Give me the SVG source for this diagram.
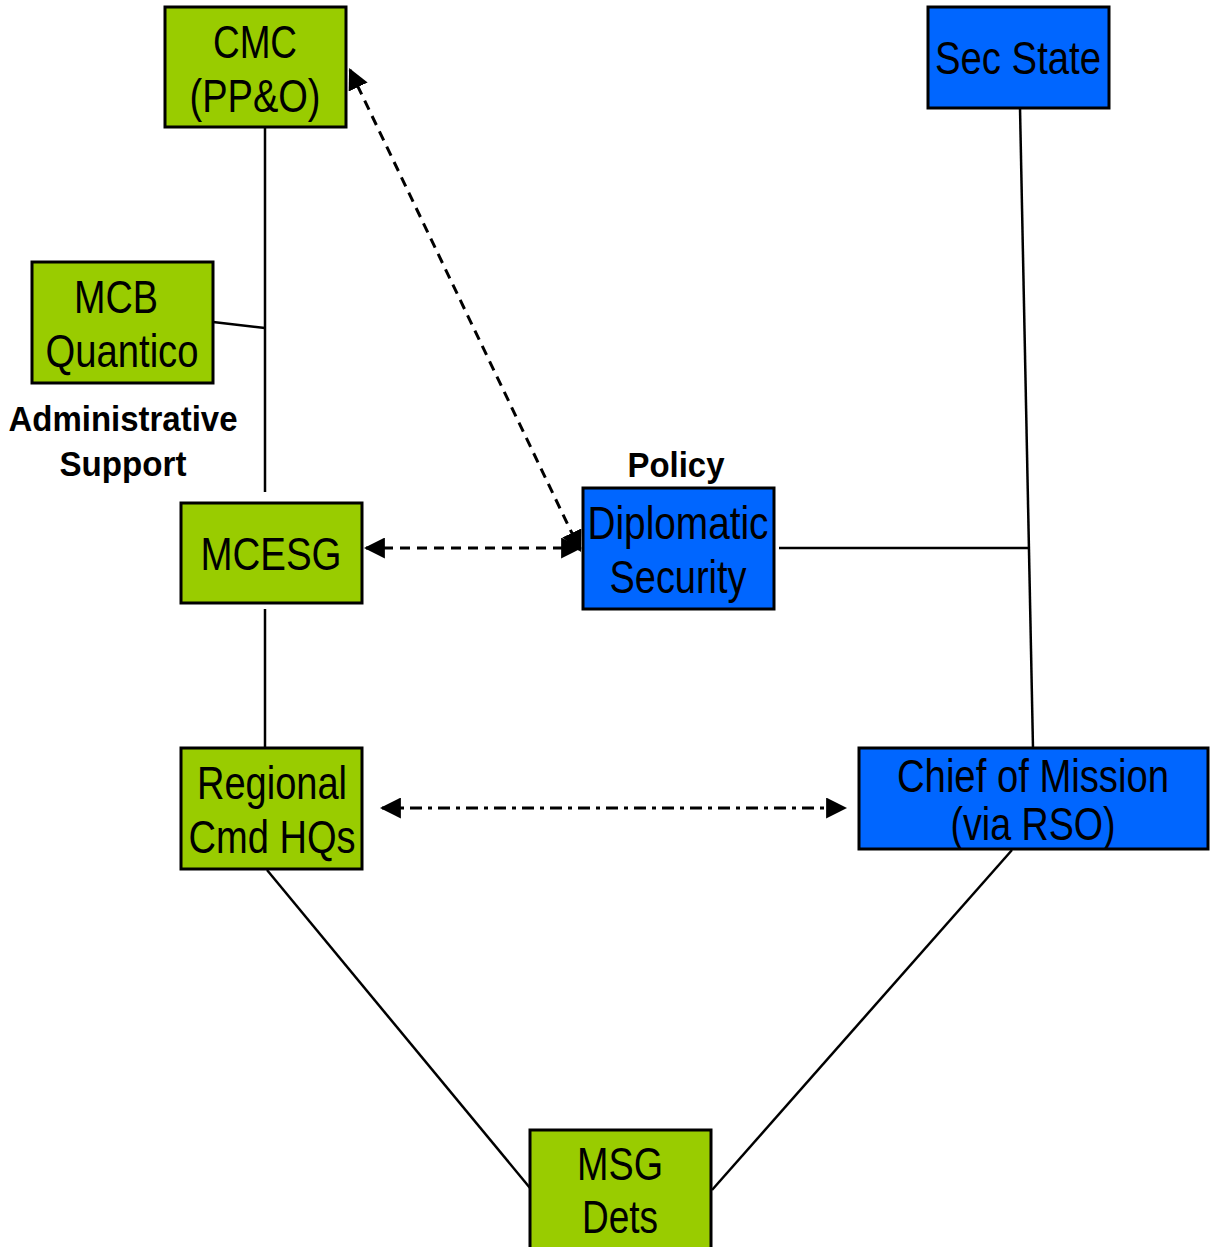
<svg xmlns="http://www.w3.org/2000/svg" width="1213" height="1247" viewBox="0 0 1213 1247">
<style>
.g{fill:#99CC00;stroke:#000;stroke-width:3}
.b{fill:#0066FF;stroke:#000;stroke-width:3}
.t{font-family:"Liberation Sans",Arial,sans-serif;font-size:46px;fill:#000;text-anchor:middle}
.lbl{font-family:"Liberation Sans",Arial,sans-serif;font-size:35px;font-weight:bold;fill:#000;text-anchor:middle}
.ln{stroke:#000;stroke-width:2.5;fill:none}
.da{stroke:#000;stroke-width:3;fill:none;stroke-dasharray:10 7;marker-start:url(#ah);marker-end:url(#ah)}
.dd{stroke:#000;stroke-width:3;fill:none;stroke-dasharray:12 6 4 6;marker-start:url(#ah);marker-end:url(#ah)}
</style>
<defs>
<marker id="ah" viewBox="0 0 10 10" refX="9" refY="5" markerWidth="7" markerHeight="7" markerUnits="strokeWidth" orient="auto-start-reverse">
<path d="M0,0 L10,5 L0,10 z" fill="#000"/>
</marker>
</defs>
<g id="connectors">
<line class="ln" x1="265" y1="127" x2="265" y2="492"/>
<line class="ln" x1="213" y1="322" x2="265" y2="328"/>
<line class="ln" x1="265" y1="609" x2="265" y2="748"/>
<line class="ln" x1="267" y1="870" x2="530" y2="1188"/>
<line class="ln" x1="1012" y1="850" x2="712" y2="1190"/>
<line class="ln" x1="1020" y1="108" x2="1033" y2="748"/>
<line class="ln" x1="779" y1="548" x2="1028" y2="548"/>
<line class="da" x1="350" y1="70" x2="580" y2="550"/>
<line class="da" x1="366" y1="548" x2="580" y2="548"/>
<line class="dd" x1="382" y1="808" x2="845" y2="808"/>
</g>
<g id="cmc">
<rect class="g" x="165" y="7" width="181" height="120"/>
<text class="t" x="255" y="58" textLength="84" lengthAdjust="spacingAndGlyphs">CMC</text>
<text class="t" x="255" y="112" textLength="131" lengthAdjust="spacingAndGlyphs">(PP&amp;O)</text>
</g>
<g id="secstate">
<rect class="b" x="928" y="7" width="181" height="101"/>
<text class="t" x="1018" y="74" textLength="166" lengthAdjust="spacingAndGlyphs">Sec State</text>
</g>
<g id="mcb">
<rect class="g" x="32" y="262" width="181" height="121"/>
<text class="t" x="116" y="313" textLength="84" lengthAdjust="spacingAndGlyphs">MCB</text>
<text class="t" x="122" y="367" textLength="153" lengthAdjust="spacingAndGlyphs">Quantico</text>
</g>
<g id="adminlabel">
<text class="lbl" x="123" y="431" textLength="229" lengthAdjust="spacingAndGlyphs">Administrative</text>
<text class="lbl" x="123" y="476" textLength="127" lengthAdjust="spacingAndGlyphs">Support</text>
</g>
<g id="mcesg">
<rect class="g" x="181" y="503" width="181" height="100"/>
<text class="t" x="271" y="570" textLength="141" lengthAdjust="spacingAndGlyphs">MCESG</text>
</g>
<g id="policylabel">
<text class="lbl" x="676" y="477" textLength="97" lengthAdjust="spacingAndGlyphs">Policy</text>
</g>
<g id="diplomatic">
<rect class="b" x="583" y="488" width="191" height="121"/>
<text class="t" x="678" y="539" textLength="181" lengthAdjust="spacingAndGlyphs">Diplomatic</text>
<text class="t" x="678" y="593" textLength="137" lengthAdjust="spacingAndGlyphs">Security</text>
</g>
<g id="regional">
<rect class="g" x="181" y="748" width="181" height="121"/>
<text class="t" x="272" y="799" textLength="150" lengthAdjust="spacingAndGlyphs">Regional</text>
<text class="t" x="272" y="853" textLength="167" lengthAdjust="spacingAndGlyphs">Cmd HQs</text>
</g>
<g id="chief">
<rect class="b" x="859" y="748" width="349" height="101"/>
<text class="t" x="1033" y="792" font-size="43" textLength="272" lengthAdjust="spacingAndGlyphs">Chief of Mission</text>
<text class="t" x="1033" y="840" textLength="165" lengthAdjust="spacingAndGlyphs">(via RSO)</text>
</g>
<g id="msg">
<rect class="g" x="530" y="1130" width="181" height="125"/>
<text class="t" x="620" y="1180" textLength="86" lengthAdjust="spacingAndGlyphs">MSG</text>
<text class="t" x="620" y="1233" textLength="76" lengthAdjust="spacingAndGlyphs">Dets</text>
</g>
</svg>
